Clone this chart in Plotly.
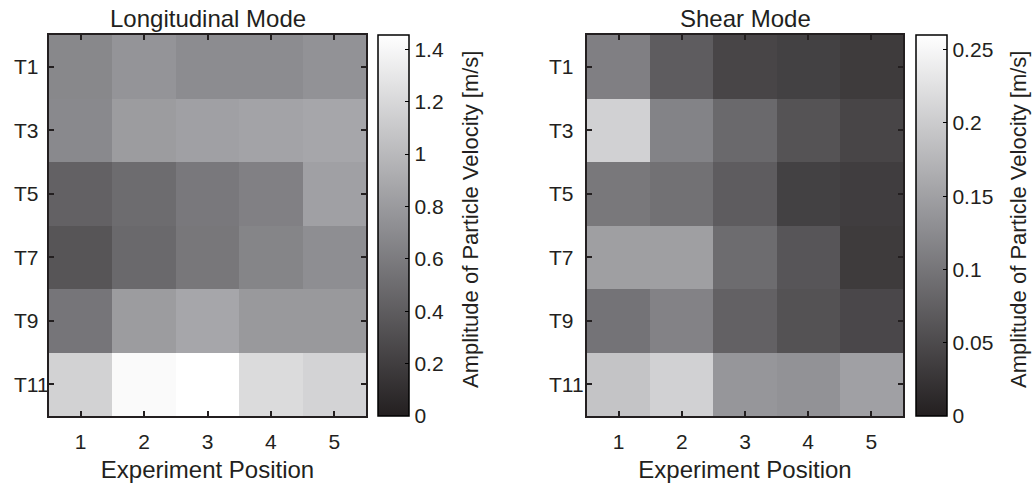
import plotly.graph_objects as go

positions = [1, 2, 3, 4, 5]
rows = ["T1", "T3", "T5", "T7", "T9", "T11"]

longitudinal = [
    [0.68, 0.76, 0.71, 0.71, 0.75],
    [0.69, 0.81, 0.84, 0.86, 0.88],
    [0.43, 0.50, 0.58, 0.63, 0.84],
    [0.35, 0.48, 0.57, 0.66, 0.72],
    [0.56, 0.81, 0.88, 0.79, 0.79],
    [1.16, 1.42, 1.455, 1.22, 1.17],
]
shear = [
    [0.112, 0.071, 0.044, 0.039, 0.032],
    [0.207, 0.116, 0.086, 0.060, 0.044],
    [0.103, 0.095, 0.071, 0.039, 0.035],
    [0.148, 0.148, 0.089, 0.063, 0.032],
    [0.098, 0.115, 0.077, 0.059, 0.047],
    [0.191, 0.207, 0.138, 0.134, 0.150],
]
long_max = 1.455
shear_max = 0.26
cbar_title = "Amplitude of Particle Velocity [m/s]"

W, H = 1035, 485
FONT = "Liberation Sans, Arial, Helvetica, sans-serif"
TXT = "#231f20"
gray = [[0, "rgb(35,31,32)"], [0.5, "rgb(143,143,147)"], [1, "rgb(255,255,255)"]]

def px_x(p):
    return p / W

def px_y(p):
    return 1 - p / H

top, bottom = 35, 416
ymid = (px_y(top) + px_y(bottom)) / 2
cb_len = bottom - top

def cbar(x_left, dtick):
    return dict(
        x=px_x(x_left), xanchor="left", xpad=0, xref="paper",
        y=ymid, yanchor="middle", ypad=0,
        len=cb_len, lenmode="pixels",
        thickness=31, thicknessmode="pixels",
        outlinewidth=1.5, outlinecolor="black",
        ticks="inside", ticklen=4, tickwidth=1.2, tickcolor="black",
        tick0=0, dtick=dtick,
        tickfont=dict(family=FONT, size=21, color=TXT),
    )

fig = go.Figure()
fig.add_trace(go.Heatmap(
    z=longitudinal, x=positions, y=rows, colorscale=gray, zmin=0, zmax=long_max,
    colorbar=cbar(378, 0.2), xaxis="x", yaxis="y",
))
fig.add_trace(go.Heatmap(
    z=shear, x=positions, y=rows, colorscale=gray, zmin=0, zmax=shear_max,
    colorbar=cbar(916, 0.05), xaxis="x2", yaxis="y2",
))

def xax(d0, d1, anchor):
    return dict(
        domain=[px_x(d0), px_x(d1)], anchor=anchor, range=[0.5, 5.5],
        tickvals=positions, ticks="inside", ticklen=5, tickwidth=1.5, tickcolor=TXT,
        showline=True, linewidth=2, linecolor=TXT, mirror="allticks",
        showgrid=False, zeroline=False, ticklabelstandoff=6,
        tickfont=dict(family=FONT, size=21, color=TXT),
        title=dict(text="Experiment Position", standoff=9,
                   font=dict(family=FONT, size=24, color=TXT)),
    )

def yax(anchor):
    return dict(
        domain=[px_y(bottom), px_y(top)], anchor=anchor, autorange="reversed",
        ticks="inside", ticklen=5, tickwidth=1.5, tickcolor=TXT,
        showline=True, linewidth=2, linecolor=TXT, mirror="allticks",
        showgrid=False, zeroline=False, showticklabels=False,
    )

annotations = [
    dict(text="Longitudinal Mode", x=(px_x(49) + px_x(366)) / 2, y=px_y(19),
         xref="paper", yref="paper", xanchor="center", yanchor="middle",
         showarrow=False, font=dict(family=FONT, size=24, color=TXT)),
    dict(text="Shear Mode", x=(px_x(587) + px_x(903)) / 2, y=px_y(19),
         xref="paper", yref="paper", xanchor="center", yanchor="middle",
         showarrow=False, font=dict(family=FONT, size=24, color=TXT)),
]
for xc in (471, 1019):
    annotations.append(dict(
        text=cbar_title, x=px_x(xc), y=px_y(220), xref="paper", yref="paper",
        xanchor="center", yanchor="middle", textangle=-90, showarrow=False,
        font=dict(family=FONT, size=22, color=TXT),
    ))
for yref, xleft in (("y", 12), ("y2", 547)):
    for r in rows:
        annotations.append(dict(
            text=r, x=px_x(xleft), y=r, xref="paper", yref=yref,
            xanchor="left", yanchor="middle", showarrow=False,
            font=dict(family=FONT, size=21, color=TXT),
        ))

fig.update_layout(
    width=W, height=H, margin=dict(l=0, r=0, t=0, b=0),
    paper_bgcolor="white", plot_bgcolor="white",
    xaxis=xax(49, 366, "y"), yaxis=yax("x"),
    xaxis2=xax(587, 903, "y2"), yaxis2=yax("x2"),
    annotations=annotations,
)

fig.write_html("out.html")
